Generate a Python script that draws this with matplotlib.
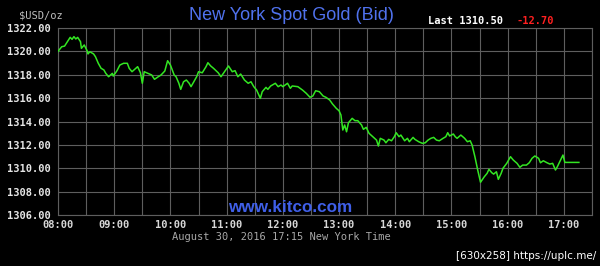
import numpy as np
import matplotlib
matplotlib.use("Agg")
import matplotlib.pyplot as plt

# Minutes after 08:00 New York time, and bid price (USD/oz)
minutes = [0, 4, 7, 9, 13, 15, 17, 19, 21, 24, 25, 28, 31, 32, 34, 38, 40, 43, 46, 49,
           51, 54, 58, 59, 63, 66, 70, 74, 76, 79, 83, 85, 88, 90, 92, 96, 100, 103, 107, 110,
           114, 117, 120, 124, 126, 129, 131, 134, 137, 140, 142, 145, 148, 150, 154, 158, 160, 163, 166, 171,
           174, 176, 179, 182, 186, 189, 192, 195, 199, 203, 206, 209, 212, 216, 218, 222, 224, 227, 232, 235,
           238, 240, 245, 248, 250, 256, 261, 265, 269, 272, 275, 279, 283, 286, 290, 293, 297, 300, 302, 304,
           306, 308, 310, 314, 317, 320, 324, 326, 329, 332, 336, 340, 342, 344, 348, 350, 353, 356, 359, 361,
           364, 366, 370, 373, 375, 379, 381, 385, 389, 392, 395, 398, 401, 404, 407, 411, 414, 416, 418, 422,
           424, 426, 430, 434, 437, 440, 442, 445, 448, 451, 455, 458, 460, 463, 465, 468, 470, 473, 475, 479,
           483, 486, 490, 493, 496, 500, 503, 506, 509, 513, 515, 518, 522, 525, 528, 531, 533, 536, 539, 541,
           556]
prices = [1320.00, 1320.40, 1320.45, 1320.70, 1321.20, 1321.03, 1321.26, 1321.06, 1321.20, 1320.83,
          1320.26, 1320.55, 1320.06, 1319.78, 1319.97, 1319.78, 1319.54, 1318.98, 1318.55, 1318.41,
          1318.12, 1317.83, 1318.12, 1317.89, 1318.35, 1318.83, 1318.98, 1318.98, 1318.55, 1318.26,
          1318.55, 1318.69, 1318.17, 1317.27, 1318.26, 1318.12, 1317.98, 1317.61, 1317.83, 1317.98,
          1318.32, 1319.20, 1318.83, 1317.98, 1317.83, 1317.27, 1316.75, 1317.40, 1317.55, 1317.27,
          1316.98, 1317.40, 1317.83, 1318.26, 1318.17, 1318.69, 1319.03, 1318.75, 1318.55, 1318.17,
          1317.83, 1318.06, 1318.41, 1318.75, 1318.26, 1318.35, 1317.83, 1318.06, 1317.55, 1317.27,
          1317.40, 1316.98, 1316.69, 1315.98, 1316.55, 1316.92, 1316.75, 1317.04, 1317.27, 1316.98,
          1317.12, 1316.98, 1317.27, 1316.84, 1317.04, 1316.98, 1316.69, 1316.41, 1316.07, 1316.18,
          1316.63, 1316.55, 1316.18, 1316.07, 1315.84, 1315.50, 1315.13, 1314.92, 1314.56, 1313.27,
          1313.70, 1313.12, 1313.89, 1314.27, 1314.07, 1314.07, 1313.70, 1313.33, 1313.50, 1312.99,
          1312.70, 1312.41, 1311.90, 1312.56, 1312.41, 1312.18, 1312.47, 1312.35, 1312.70, 1313.04,
          1312.70, 1312.84, 1312.35, 1312.56, 1312.27, 1312.64, 1312.47, 1312.27, 1312.13, 1312.18,
          1312.41, 1312.56, 1312.64, 1312.41, 1312.35, 1312.56, 1312.70, 1313.04, 1312.76, 1312.93,
          1312.70, 1312.56, 1312.84, 1312.56, 1312.27, 1312.35, 1311.99, 1310.99, 1309.85, 1308.80,
          1309.27, 1309.56, 1309.91, 1309.62, 1309.50, 1309.70, 1309.05, 1309.56, 1310.00, 1310.42,
          1310.99, 1310.70, 1310.42, 1310.08, 1310.27, 1310.27, 1310.47, 1310.85, 1311.05, 1310.85,
          1310.47, 1310.64, 1310.47, 1310.36, 1310.42, 1309.85, 1310.13, 1310.64, 1311.13, 1310.50,
          1310.50]

hour_ticks = [8, 9, 10, 11, 12, 13, 14, 15, 16, 17]
hour_labels = ["08:00", "09:00", "10:00", "11:00", "12:00", "13:00", "14:00", "15:00", "16:00", "17:00"]
price_ticks = [1306, 1308, 1310, 1312, 1314, 1316, 1318, 1320, 1322]

title = "New York Spot Gold (Bid)"
last_text = "Last 1310.50"
change_text = "-12.70"
date_text = "August 30, 2016 17:15 New York Time"

hours = 8 + np.array(minutes) / 60.0

fig = plt.figure(figsize=(6, 2.66), dpi=100, facecolor="black")
ax = fig.add_axes([58 / 600, 1 - 215 / 266, 534 / 600, 187 / 266])
ax.set_facecolor("black")

grid_c = "#5e5e5e"
ax.plot(hours, prices, color="#33e622", lw=1.1, zorder=3)

ax.set_xlim(8, 17.5)
ax.set_ylim(1306, 1322)
ax.set_xticks(np.arange(8, 17.51, 0.5))
ax.set_yticks(price_ticks)
ax.grid(True, color=grid_c, lw=0.8)
for s in ax.spines.values():
    s.set_color(grid_c)
    s.set_linewidth(0.8)
ax.tick_params(length=0, pad=5)

ax.set_xticklabels([""] * len(ax.get_xticks()))
ax.set_yticklabels([f"{v:.2f}" for v in price_ticks], family="DejaVu Sans Mono",
                   fontsize=7.5, fontweight="bold", color="#e6e6e6")
for h, lab in zip(hour_ticks, hour_labels):
    ax.text(h, -0.055, lab, transform=ax.get_xaxis_transform(), ha="center", va="center",
            family="DejaVu Sans Mono", fontsize=7.5, fontweight="bold", color="#d8d8d8")

fig.text(19 / 600, 1 - 15 / 266, "$USD/oz", family="DejaVu Sans Mono", fontsize=7.5,
         color="#bdbdbd", ha="left", va="center")
fig.text(291 / 600, 1 - 16 / 266, title, family="Liberation Sans", fontsize=13,
         color="#5072ee", ha="center", va="center")
fig.text(428 / 600, 1 - 21 / 266, last_text, family="DejaVu Sans Mono", fontsize=7.5,
         fontweight="bold", color="white", ha="left", va="center")
fig.text(517 / 600, 1 - 21 / 266, change_text, family="DejaVu Sans Mono", fontsize=7.5,
         fontweight="bold", color="#ff2020", ha="left", va="center")
fig.text(290 / 600, 1 - 208 / 266, "www.kitco.com", family="Liberation Sans", fontsize=12.3,
         fontweight="bold", color="#3f5fe8", ha="center", va="center")
fig.text(281 / 600, 1 - 237 / 266, date_text, family="DejaVu Sans Mono", fontsize=7.5,
         color="#a8a8a8", ha="center", va="center")
fig.text(596 / 600, 1 - 256 / 266, "[630x258] https://uplc.me/", family="DejaVu Sans",
         fontsize=7.5, color="white", ha="right", va="center")

fig.savefig("out.png", dpi=100, facecolor="black")
